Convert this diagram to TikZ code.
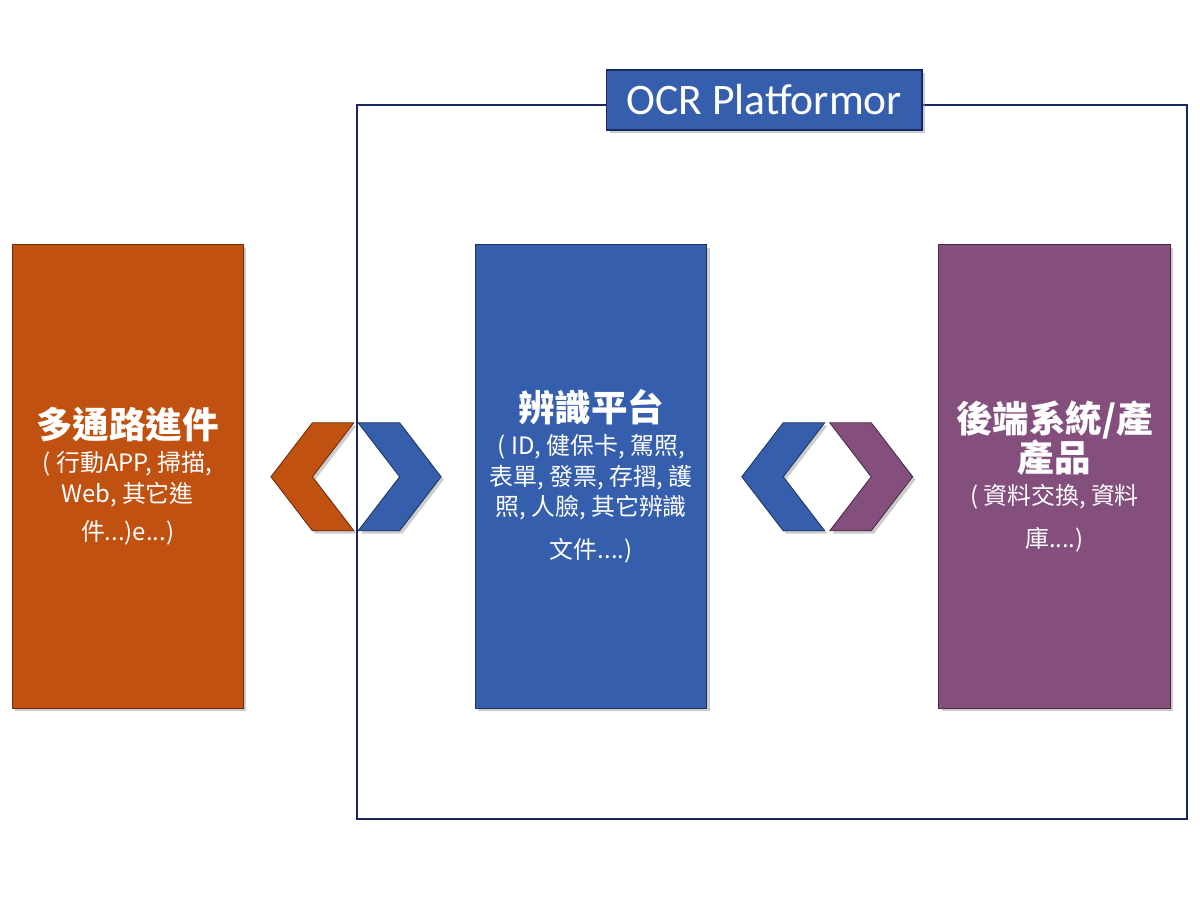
\documentclass[tikz,border=0pt]{standalone}
\usepackage{fontspec}
\newfontfamily\cjk{Noto Sans CJK TC}
\newfontfamily\calibri{Carlito}
\usepackage{xcolor}
\usetikzlibrary{
  positioning,
  shapes.symbols,
  shadows
}
\definecolor{xorange}{RGB}{192,81,16}
\definecolor{xblue}{RGB}{53,94,173}
\definecolor{xplum}{RGB}{132,79,125}
\definecolor{xnavy}{RGB}{25,38,100}

\begin{document}
\begin{tikzpicture}[
  card/.style={draw=#1!55!black, fill=#1, minimum width=5.78cm, minimum height=11.58cm,
               inner sep=0pt, text=white, align=center, line width=0.6pt,
               font=\cjk\fontsize{17}{21.5}\selectfont,
               drop shadow={shadow xshift=2pt, shadow yshift=-2pt, fill=black!40, opacity=0.5}},
  head/.style={font=\cjk\fontsize{26}{31}\selectfont\bfseries},
  chev/.style={shape=signal, draw=#1!55!black, fill=#1, line width=0.6pt,
               minimum width=2.03cm, minimum height=2.7cm, inner sep=0pt,
               signal pointer angle=105,
               drop shadow={shadow xshift=2pt, shadow yshift=-2pt, fill=black!40, opacity=0.5}},
  into/.style={chev=#1, signal to=east, signal from=west},
  back/.style={chev=#1, signal to=west, signal from=east}
]
  \useasboundingbox (0,0) rectangle (30,22.5);

  % platform frame and its title
  \node[draw=xnavy, line width=1.4pt, minimum width=20.75cm, minimum height=17.85cm,
        inner sep=0pt] (platform) at (19.3,10.95) {};
  \node[draw=xnavy, fill=xblue, line width=0.8pt, minimum width=7.88cm, minimum height=1.5cm,
        inner sep=0pt, text=white, font=\calibri\fontsize{31}{36}\selectfont,
        drop shadow={shadow xshift=2pt, shadow yshift=-2pt, fill=black!40, opacity=0.5}]
        (title) at (19.11,20.0) {OCR Platformor};

  % three stages
  \node[card=xorange] (intake) at (3.19,10.59)
    {{\fontsize{26}{31}\selectfont\bfseries 多通路進件}\\[2pt]
     ( 行動APP, 掃描,\\ Web, 其它進\\[6pt] 件...)e...)};
  \node[card=xblue] (engine) at (14.78,10.59)
    {{\fontsize{26}{31}\selectfont\bfseries 辨識平台}\\[2pt]
     ( ID, 健保卡, 駕照,\\ 表單, 發票, 存摺, 護\\ 照, 人臉, 其它辨識\\[9pt] 文件....)};
  \node[card=xplum] (backend) at (26.36,10.59)
    {{\fontsize{26}{31}\selectfont\bfseries 後端系統/產}\\
     {\fontsize{26}{31}\selectfont\bfseries 產品}\\[2pt]
     ( 資料交換, 資料\\[9pt] 庫....)};

  % exchange chevrons
  \node[back=xorange] (inL)  at (7.81,10.58) {};
  \node[into=xblue]   (inR)  at (9.99,10.58) {};
  \node[back=xblue]   (outL) at (19.58,10.58) {};
  \node[into=xplum]   (outR) at (21.78,10.58) {};
\end{tikzpicture}
\end{document}
